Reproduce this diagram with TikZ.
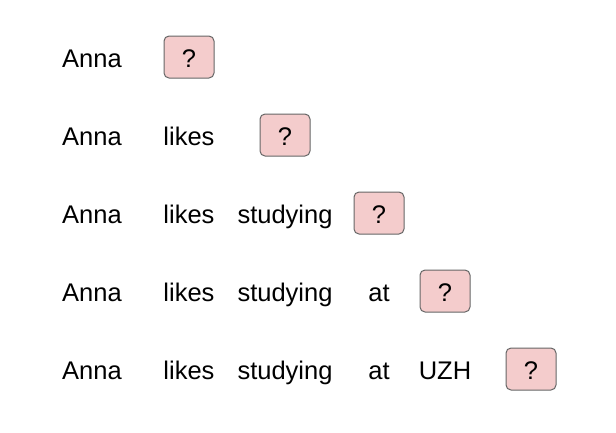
\documentclass[tikz,border=0pt]{standalone}
\usepackage{fontspec}
\setmainfont{Liberation Sans}
\definecolor{qfill}{HTML}{F4CCCC}
\definecolor{qdraw}{HTML}{666666}
\begin{document}
\begin{tikzpicture}[x=1pt,y=-1pt,
  word/.style={font=\fontsize{25.5}{30}\selectfont, inner sep=0pt, anchor=base},
  qbox/.style={draw=qdraw, line width=1pt, fill=qfill, rounded corners=5pt, minimum width=50pt, minimum height=42pt, inner sep=0pt},
  qmark/.style={font=\fontsize{25.5}{30}\selectfont, inner sep=0pt, anchor=base}]
\useasboundingbox (0,0) rectangle (616,432);
% row 1
\node[word] (a1) at (92,67) {Anna};
\node[qbox] (q1) at (189,57) {};
\node[qmark] (m1) at (189,67) {?};
% row 2
\node[word] (a2) at (92,145) {Anna};
\node[word] (l2) at (189,145) {likes};
\node[qbox] (q2) at (285,135) {};
\node[qmark] (m2) at (285,145) {?};
% row 3
\node[word] (a3) at (92,223) {Anna};
\node[word] (l3) at (189,223) {likes};
\node[word] (s3) at (285,223) {studying};
\node[qbox] (q3) at (379,213) {};
\node[qmark] (m3) at (379,223) {?};
% row 4
\node[word] (a4) at (92,301) {Anna};
\node[word] (l4) at (189,301) {likes};
\node[word] (s4) at (285,301) {studying};
\node[word] (t4) at (379,301) {at};
\node[qbox] (q4) at (445,291) {};
\node[qmark] (m4) at (445,301) {?};
% row 5
\node[word] (a5) at (92,379) {Anna};
\node[word] (l5) at (189,379) {likes};
\node[word] (s5) at (285,379) {studying};
\node[word] (t5) at (379,379) {at};
\node[word] (u5) at (445,379) {UZH};
\node[qbox] (q5) at (531,369) {};
\node[qmark] (m5) at (531,379) {?};
\end{tikzpicture}
\end{document}
